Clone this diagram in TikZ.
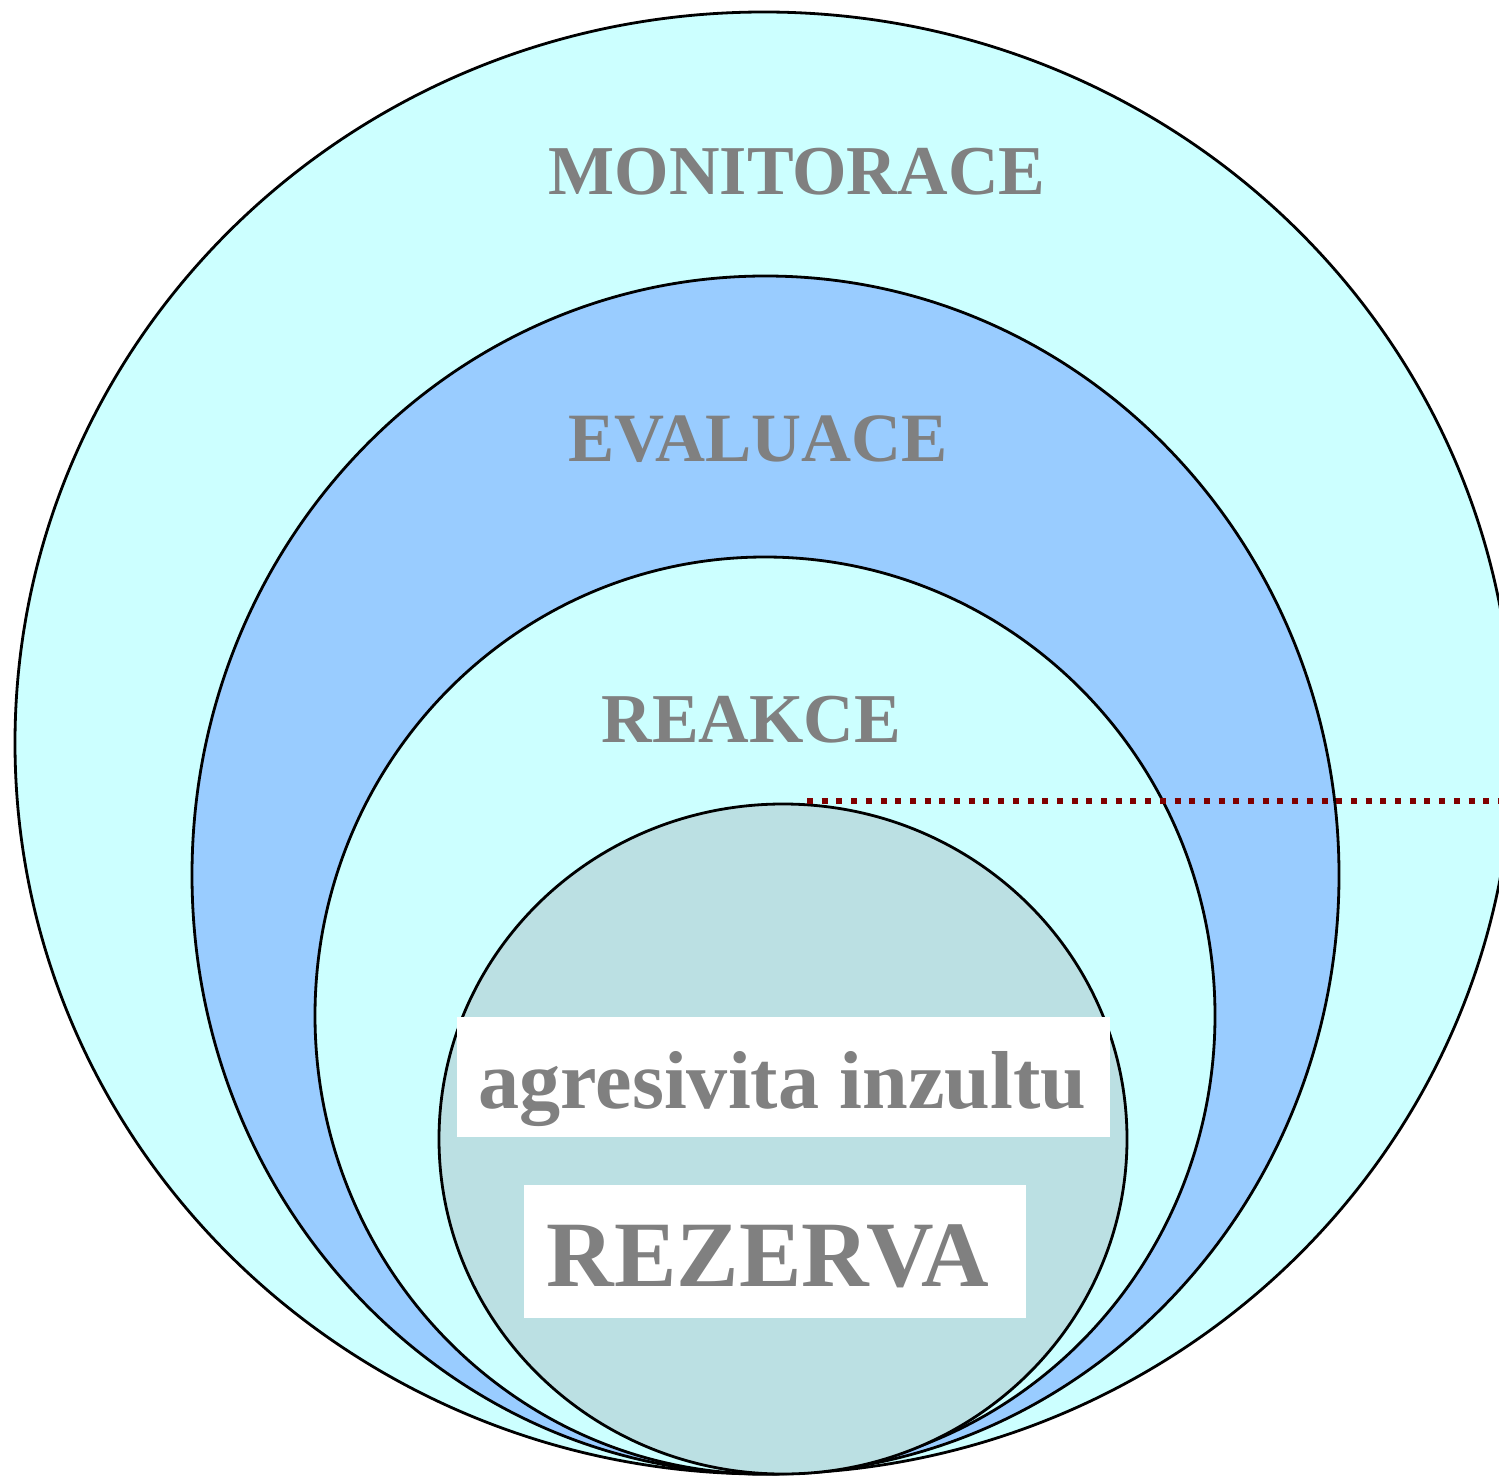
\documentclass[tikz,border=0pt]{standalone}
\usepackage{fontspec}
\setmainfont{Liberation Serif}
\usetikzlibrary{shapes.geometric}
\definecolor{paleCyan}{HTML}{CCFFFF}
\definecolor{skyBlue}{HTML}{99CCFF}
\definecolor{coreTeal}{HTML}{BBE0E3}
\definecolor{labelGrey}{HTML}{808080}
\definecolor{darkRed}{HTML}{800000}
\tikzset{
  ring/.style={ellipse, draw=black, line width=1.4pt, inner sep=0pt, outer sep=0pt},
  lbl/.style={anchor=base, text=labelGrey, inner sep=0pt, font=\bfseries},
  whitebox/.style={fill=white, draw=none, inner sep=0pt, outer sep=0pt},
  dotline/.style={draw=darkRed, line width=3pt, dash pattern=on 3pt off 4.35pt}
}
\begin{document}
\begin{tikzpicture}[x=0.5pt,y=-0.5pt]
\useasboundingbox (0,0) rectangle (1499,1476);
\begin{scope}
\clip (0,0) rectangle (1499,1476);
\node[ring, fill=paleCyan, minimum width=749pt, minimum height=731pt] (monitor) at (764,743) {};
\node[ring, fill=skyBlue, minimum width=573.5pt, minimum height=599pt] (evaluace) at (765.5,875) {};
\node[ring, fill=paleCyan, minimum width=450pt, minimum height=458.5pt] (reakce) at (765,1015.5) {};
\node[ring, fill=coreTeal, minimum width=344pt, minimum height=335pt] (rezerva) at (783,1139) {};
\coordinate (dotA) at (807,800.5);
\coordinate (dotB) at (1502,800.5);
\draw[dotline] (dotA) -- (dotB);
\end{scope}
\node[whitebox, minimum width=326.5pt, minimum height=60pt] (boxA) at (783.5,1077) {};
\node[whitebox, minimum width=251pt, minimum height=66.5pt] (boxB) at (775,1251.5) {};
\node[lbl, font=\bfseries\fontsize{35pt}{36pt}\selectfont] (tMon) at (797,195) {MONITORACE};
\node[lbl, font=\bfseries\fontsize{34.6pt}{36pt}\selectfont] (tEva) at (758,461) {EVALUACE};
\node[lbl, font=\bfseries\fontsize{35pt}{36pt}\selectfont] (tRea) at (751.5,742) {REAKCE};
\node[lbl, font=\bfseries\fontsize{41.1pt}{42pt}\selectfont] (tAgr) at (782.5,1108) {agresivita inzultu};
\node[lbl, font=\bfseries\fontsize{46.8pt}{48pt}\selectfont] (tRez) at (768,1286) {REZERVA};
\end{tikzpicture}
\end{document}
